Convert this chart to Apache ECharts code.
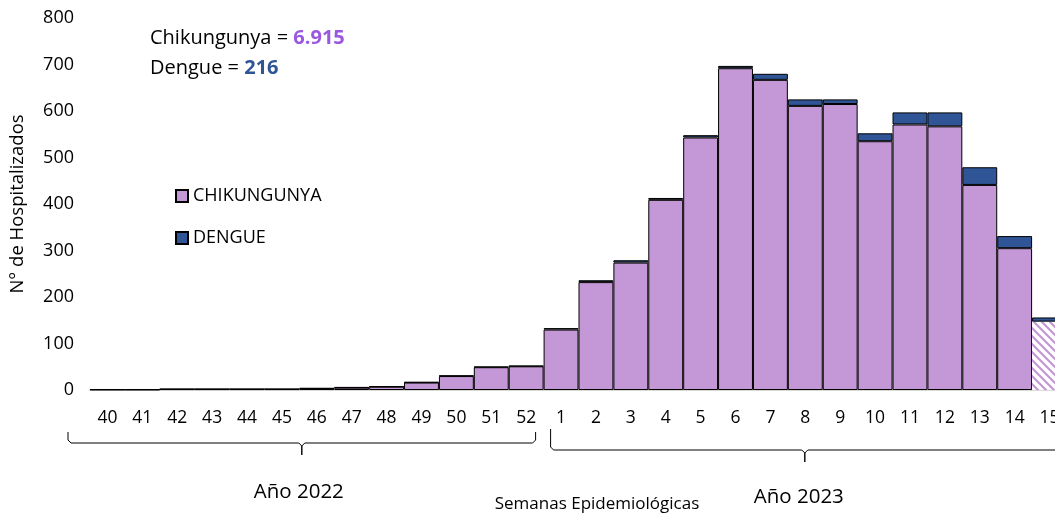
<!DOCTYPE html>
<html>
<head>
<meta charset="utf-8">
<script src="https://cdn.jsdelivr.net/npm/echarts@6/dist/echarts.min.js"></script>
<style>
    html, body { margin: 0; padding: 0; background: #fff; }
    #chart { width: 1055px; height: 515px; }
</style>
</head>
<body>
<div id="chart"></div>
<script>
// Semanas epidemiológicas (2022: 40-52, 2023: 1-15)
const weeks = ['40', '41', '42', '43', '44', '45', '46', '47', '48', '49', '50', '51', '52',
    '1', '2', '3', '4', '5', '6', '7', '8', '9', '10', '11', '12', '13', '14', '15'];
const chikungunya = [1, 1, 2, 2, 2, 2, 3, 5, 7, 16, 30, 49, 51,
    130, 232, 274, 409, 543, 692, 667, 611, 615, 535, 571, 567, 441, 305, 147];
const dengue = [0, 0, 0, 0, 0, 0, 1, 1, 1, 1, 1, 1, 1,
    3, 4, 5, 4, 5, 5, 13, 14, 10, 17, 26, 30, 38, 26, 9];
const yTicks = [0, 100, 200, 300, 400, 500, 600, 700, 800];

const FONT = '"Open Sans"';
const CHIK_COLOR = '#c497d6';
const DENGUE_COLOR = '#2f5597';

// patrón rayado para la última semana (datos preliminares)
function hatchPattern() {
    const c = document.createElement('canvas');
    c.width = 8;
    c.height = 8;
    const ctx = c.getContext('2d');
    ctx.fillStyle = '#fff';
    ctx.fillRect(0, 0, 8, 8);
    ctx.strokeStyle = CHIK_COLOR;
    ctx.lineWidth = 2.2;
    ctx.beginPath();
    ctx.moveTo(-2, -2); ctx.lineTo(10, 10);
    ctx.moveTo(-2, 6); ctx.lineTo(2, 10);
    ctx.moveTo(6, -2); ctx.lineTo(10, 2);
    ctx.stroke();
    return { image: c, repeat: 'repeat' };
}

const chart = echarts.init(document.getElementById('chart'));

const chikData = chikungunya.map((v, i) => {
    if (i === chikungunya.length - 1) {
        return { value: v, itemStyle: { color: hatchPattern(), borderWidth: 0 } };
    }
    return v;
});

chart.setOption({
    animation: false,
    textStyle: { fontFamily: FONT },
    // el gráfico original está recortado a la derecha (semana 15)
    grid: { left: 90, width: 977, top: 18, bottom: 125, outerBoundsMode: 'none', containLabel: false },
    legend: {
        orient: 'vertical',
        left: 170,
        top: 182,
        itemWidth: 12,
        itemHeight: 12,
        itemGap: 24,
        icon: 'rect',
        textStyle: { fontFamily: FONT, fontSize: 18, color: '#000' },
        data: ['CHIKUNGUNYA', 'DENGUE']
    },
    xAxis: {
        type: 'category',
        data: weeks,
        axisLine: { lineStyle: { color: '#d9d9d9', width: 2 } },
        axisTick: { show: false },
        axisLabel: { color: '#000', fontSize: 17.5, fontFamily: FONT, margin: 19, interval: 0 }
    },
    yAxis: {
        type: 'value',
        min: yTicks[0],
        max: yTicks[yTicks.length - 1],
        interval: 100,
        name: 'N° de Hospitalizados',
        nameLocation: 'middle',
        nameGap: 63,
        nameTextStyle: { color: '#000', fontSize: 18.5, fontFamily: FONT },
        axisLine: { show: false },
        axisTick: { show: false },
        splitLine: { show: false },
        axisLabel: { color: '#000', fontSize: 18, fontFamily: FONT, margin: 16 }
    },
    series: [
        {
            name: 'CHIKUNGUNYA',
            type: 'bar',
            stack: 'total',
            barCategoryGap: '0%',
            itemStyle: { color: CHIK_COLOR, borderColor: '#000', borderWidth: 1 },
            data: chikData
        },
        {
            name: 'DENGUE',
            type: 'bar',
            stack: 'total',
            barCategoryGap: '0%',
            itemStyle: { color: DENGUE_COLOR, borderColor: '#000', borderWidth: 1 },
            data: dengue
        }
    ]
});

// Llaves de año y textos bajo el eje
function drawAnnotations() {
    const x0 = chart.convertToPixel({ xAxisIndex: 0 }, 0);
    const x1 = chart.convertToPixel({ xAxisIndex: 0 }, 1);
    const bw = x1 - x0;
    const edge = i => chart.convertToPixel({ xAxisIndex: 0 }, i) - bw / 2;

    function brace(left, right, top, lineY, bottom) {
        const mid = (left + right) / 2;
        return {
            type: 'polyline',
            silent: true,
            shape: {
                points: [
                    [left, top], [left, lineY - 3], [left + 3, lineY],
                    [mid - 3, lineY], [mid, lineY + 3], [mid, bottom],
                    [mid, lineY + 3], [mid + 3, lineY],
                    [right - 3, lineY], [right, lineY - 3], [right, top]
                ]
            },
            style: { stroke: '#000', lineWidth: 1, fill: null }
        };
    }

    const b1L = edge(0) - 22, b1R = edge(13) - 8;
    const b2L = edge(13) + 7, b2R = edge(28) - 8;

    const centered = (x, y, text, size) => ({
        type: 'text', x: x, y: y,
        style: { text: text, font: size + 'px ' + FONT, fill: '#000', textAlign: 'center', textVerticalAlign: 'middle' }
    });

    chart.setOption({
        graphic: [
            brace(b1L, b1R, 432, 443, 455),
            brace(b2L, b2R, 429, 450, 462),
            centered((b1L + b1R) / 2 - 3, 492, 'Año 2022', 20.5),
            centered((b2L + b2R) / 2 - 6, 497, 'Año 2023', 20.5),
            centered(597, 504, 'Semanas Epidemiológicas', 17),
            {
                type: 'text', left: 150, top: 28,
                style: {
                    text: '{a|Chikungunya = }{b|6.915}\n{a|Dengue = }{c|216}',
                    rich: {
                        a: { fontFamily: FONT, fontSize: 20, fill: '#000', lineHeight: 30 },
                        b: { fontFamily: FONT, fontSize: 20, fontWeight: 'bold', fill: '#9a57e0', lineHeight: 30 },
                        c: { fontFamily: FONT, fontSize: 20, fontWeight: 'bold', fill: DENGUE_COLOR, lineHeight: 30 }
                    }
                }
            }
        ]
    });
}

drawAnnotations();
</script>
</body>
</html>
